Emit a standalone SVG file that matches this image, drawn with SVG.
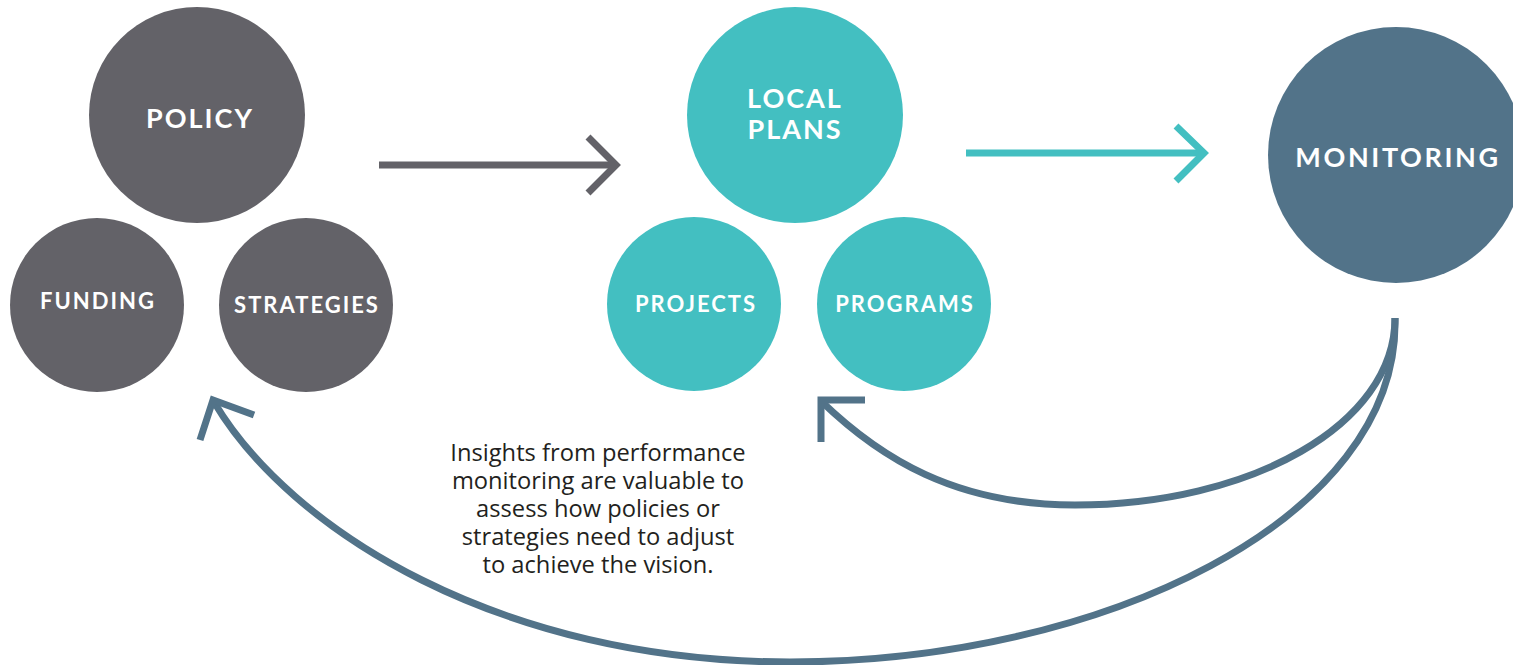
<svg xmlns="http://www.w3.org/2000/svg" width="1513" height="665" viewBox="0 0 1513 665">
<style>
.grey{fill:#636268}
.teal{fill:#43bfc1}
.slate{fill:#527389}
.lbl{font-family:Lato,"Noto Sans",sans-serif;font-weight:bold;fill:#ffffff;text-anchor:middle;letter-spacing:2px}
.big{font-size:27px}
.mon{letter-spacing:2.6px}
.sm{font-size:22px;letter-spacing:2px}
.body{font-family:"Open Sans","Noto Sans",sans-serif;font-size:23.7px;fill:#231f20;text-anchor:middle}
.ln{fill:none;stroke-width:7;stroke-linecap:butt;stroke-linejoin:miter}
</style>
<g id="policy"><circle class="grey" cx="197" cy="115" r="108"/><text class="lbl big" x="200" y="128">POLICY</text></g>
<g id="funding"><circle class="grey" cx="97" cy="305" r="87"/><text class="lbl sm" x="98" y="309">FUNDING</text></g>
<g id="strategies"><circle class="grey" cx="306" cy="305" r="87"/><text class="lbl sm" x="307" y="313">STRATEGIES</text></g>
<g id="localplans"><circle class="teal" cx="795" cy="115" r="108"/><text class="lbl big" x="795" y="108">LOCAL</text><text class="lbl big" x="795" y="139">PLANS</text></g>
<g id="projects"><circle class="teal" cx="694" cy="304" r="87"/><text class="lbl sm" x="696" y="312">PROJECTS</text></g>
<g id="programs"><circle class="teal" cx="904" cy="304" r="87"/><text class="lbl sm" x="905" y="312">PROGRAMS</text></g>
<g id="monitoring"><circle class="slate" cx="1396" cy="155" r="128"/><text class="lbl big mon" x="1398" y="167">MONITORING</text></g>
<g id="note"><text class="body" x="598"><tspan x="598" y="461">Insights from performance</tspan><tspan x="598" y="489">monitoring are valuable to</tspan><tspan x="598" y="517">assess how policies or</tspan><tspan x="598" y="545">strategies need to adjust</tspan><tspan x="598" y="573">to achieve the vision.</tspan></text></g>
<g id="connectors">
<path class="ln" stroke="#636268" d="M379,165 H615"/>
<path class="ln" stroke="#636268" d="M588,137 L616,165 L588,193"/>
<path class="ln" stroke="#43bfc1" d="M966,153 H1203"/>
<path class="ln" stroke="#43bfc1" d="M1176,126 L1204,153 L1176,181"/>
<path class="ln" stroke="#527389" d="M1395,318 C1395,425 1250,505 1075,505 C955,505 880,458 821,401"/>
<path class="ln" stroke="#527389" d="M865,400 H821 V442"/>
<path class="ln" stroke="#527389" d="M1395,318 C1400,520 1100,662 790,662 C500,662 290,530 214,402"/>
<path class="ln" stroke="#527389" d="M254,415 L213,400 L200,440"/>
</g>
</svg>
